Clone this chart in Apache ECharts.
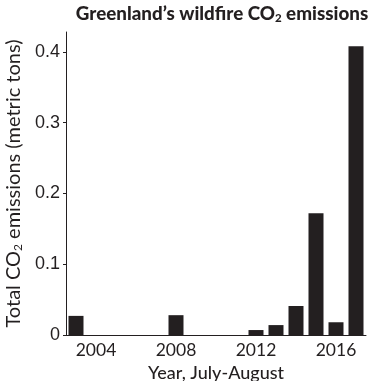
<!DOCTYPE html>
<html><head><meta charset="utf-8">
<script src="https://cdn.jsdelivr.net/npm/echarts@6/dist/echarts.min.js"></script>
<style>html,body{margin:0;padding:0;background:#fff}#c{width:370px;height:381px}</style>
</head><body><div id="c"></div>
<script>
const years = ['2003','2004','2005','2006','2007','2008','2009','2010','2011','2012','2013','2014','2015','2016','2017'];
const emissions = [0.027,0,0,0,0,0.028,0,0,0,0.007,0.014,0.041,0.172,0.018,0.408];
const yTicks = [0,0.1,0.2,0.3,0.4];
const xLabelYears = ['2004','2008','2012','2016'];
const xTickYears = ['2004','2006','2008','2010','2012','2014','2016'];

const ink = '#231f20';
const chart = echarts.init(document.getElementById('c'));
chart.setOption({
  animation: false,
  title: {
    text: '{a|Greenland’s wildfire CO}{s|2}{a| emissions}',
    left: 217, top: -2, textAlign: 'center',
    textStyle: {
      rich: {
        a: {fontFamily: 'Lato', fontWeight: 900, fontSize: 18.8, color: ink},
        s: {fontFamily: 'Lato', fontWeight: 900, fontSize: 11.5, color: ink, verticalAlign: 'bottom', padding: [9,0,0,0]}
      }
    }
  },
  grid: {left: 66, right: 4, top: 32, bottom: 46, outerBoundsMode: 'none', containLabel: false},
  xAxis: {
    type: 'category', data: years,
    name: 'Year, July-August', nameLocation: 'middle', nameGap: 25,
    nameTextStyle: {fontFamily: 'Lato', fontSize: 18, fontWeight: 500, color: ink},
    axisLine: {lineStyle: {color: ink, width: 1}},
    axisTick: {alignWithLabel: true, length: 3, lineStyle: {color: ink},
      interval: (i, v) => xTickYears.includes(v)},
    axisLabel: {interval: (i, v) => xLabelYears.includes(v), margin: 6,
      fontFamily: 'Lato', fontSize: 17.5, color: ink}
  },
  yAxis: {
    type: 'value', min: 0, max: 0.428,
    name: '{a|Total CO}{s|2}{a| emissions (metric tons)}', nameLocation: 'middle', nameGap: 40,
    nameTextStyle: {
      rich: {
        a: {fontFamily: 'Lato', fontSize: 20, color: ink},
        s: {fontFamily: 'Lato', fontSize: 12, color: ink, verticalAlign: 'bottom', padding: [9,0,0,0]}
      }
    },
    splitLine: {show: false},
    axisLine: {show: true, lineStyle: {color: ink, width: 1}},
    axisTick: {show: true, length: 3, lineStyle: {color: ink}, customValues: yTicks},
    axisLabel: {customValues: yTicks, margin: 6, fontFamily: 'Liberation Sans', fontSize: 18, color: ink,
      formatter: v => String(Math.round(v*10)/10)}
  },
  series: [{
    type: 'bar', data: emissions, barWidth: '75%',
    itemStyle: {color: ink}
  }]
});
</script></body></html>
